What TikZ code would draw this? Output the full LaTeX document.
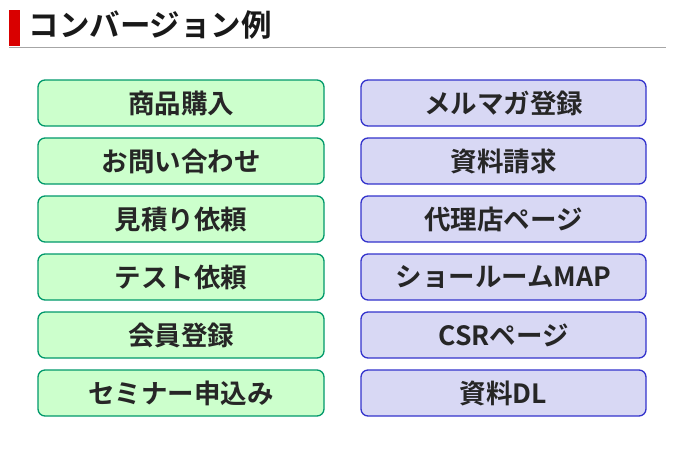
\documentclass[tikz,border=0pt]{standalone}
\usepackage{fontspec}
\setmainfont{Noto Sans CJK JP}[BoldFont={* Bold}]
\definecolor{lb}{HTML}{00996B}
\definecolor{lf}{HTML}{CCFFCC}
\definecolor{rb}{HTML}{3333CC}
\definecolor{rf}{HTML}{D8D8F4}
\begin{document}
\begin{tikzpicture}[x=1pt,y=-1pt,
  lbox/.style={draw=lb, line width=1.3pt, fill=lf, rounded corners=7pt, minimum width=286pt, minimum height=46pt, inner sep=0pt, font=\bfseries\fontsize{26.5}{28}\selectfont, text=black!85},
  rbox/.style={draw=rb, line width=1.3pt, fill=rf, rounded corners=7pt, minimum width=285pt, minimum height=46pt, inner sep=0pt, font=\bfseries\fontsize{26.5}{28}\selectfont, text=black!85}]
\useasboundingbox (0,0) rectangle (677,451);
\fill[red!85!black] (9,10) rectangle (20,46);
\draw[gray!70, line width=0.8pt] (9,47) -- (666,47);
\node[anchor=west, font=\bfseries\fontsize{30.5}{32}\selectfont, text=black!90] (title) at (25,25) {コンバージョン例};
\foreach \i/\l/\r in {0/商品購入/メルマガ登録, 1/お問い合わせ/資料請求, 2/見積り依頼/代理店ページ, 3/テスト依頼/ショールームMAP, 4/会員登録/CSRページ, 5/セミナー申込み/資料DL}{
  \node[lbox] (l\i) at (181,103+58*\i) {\l};
  \node[rbox] (r\i) at (503.5,103+58*\i) {\r};
}
\end{tikzpicture}
\end{document}
